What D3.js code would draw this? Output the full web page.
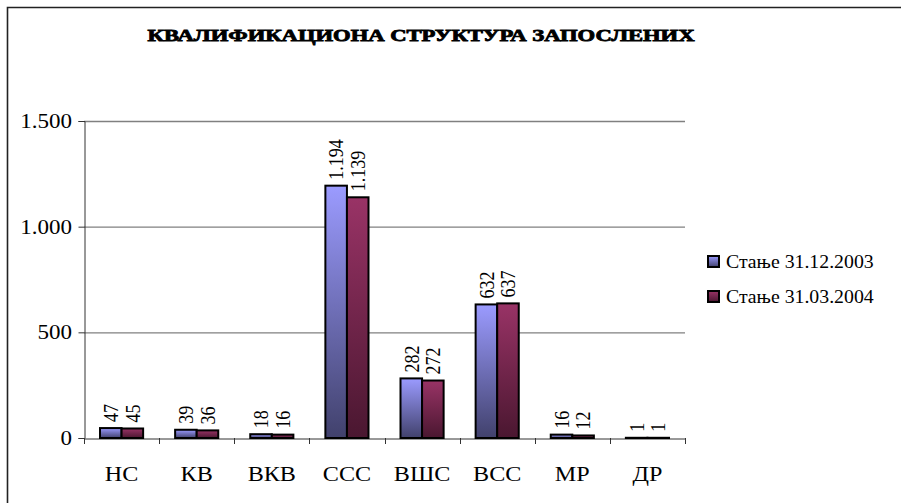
<!DOCTYPE html>
<html>
<head>
<meta charset="utf-8">
<script src="https://cdn.jsdelivr.net/npm/d3@7"></script>
<style>
  html, body { margin: 0; padding: 0; background: #fff; }
  svg { display: block; }
  svg text { font-family: "Liberation Serif", "Times New Roman", serif; fill: #000; }
</style>
</head>
<body>
<svg id="chart" width="901" height="503"></svg>
<script>
const title = "КВАЛИФИКАЦИОНА СТРУКТУРА ЗАПОСЛЕНИХ";
const categories = ["НС", "КВ", "ВКВ", "ССС", "ВШС", "ВСС", "МР", "ДР"];
const seriesNames = ["Стање 31.12.2003", "Стање 31.03.2004"];
const values2003 = [47, 39, 18, 1194, 282, 632, 16, 1];
const values2004 = [45, 36, 16, 1139, 272, 637, 12, 1];
const yTicks = [0, 500, 1000, 1500];
const seriesColors = [["#9b9bff", "#41416c"], ["#993366", "#4a1730"]];

const svg = d3.select("#chart");
const plot = { left: 84, right: 685, top: 121, bottom: 438 };
const sx = 1.15; // horizontal text stretch

const fmt = v => d3.format(",")(v).replace(/,/g, ".");

// outer frame (top and left edges visible)
svg.append("path").attr("d", "M7.5,503 V7.5 H901")
  .attr("fill", "none").attr("stroke", "#222").attr("stroke-width", 1.6);

// gradients
const defs = svg.append("defs");
seriesColors.forEach((c, i) => {
  const g = defs.append("linearGradient").attr("id", "grad" + i)
    .attr("x1", 0).attr("y1", 0).attr("x2", 0).attr("y2", 1);
  g.append("stop").attr("offset", "0%").attr("stop-color", c[0]);
  g.append("stop").attr("offset", "100%").attr("stop-color", c[1]);
});

const x0 = d3.scaleBand().domain(categories).range([plot.left, plot.right]).padding(0);
const x1 = d3.scaleBand().domain(seriesNames).range([16, x0.bandwidth() - 16]).padding(0);
const y = d3.scaleLinear().domain([0, 1500]).range([plot.bottom, plot.top]);

// gridlines
svg.append("g").selectAll("line").data(yTicks.filter(t => t > 0)).join("line")
  .attr("x1", plot.left).attr("x2", plot.right)
  .attr("y1", d => y(d) + 0.5).attr("y2", d => y(d) + 0.5)
  .attr("stroke", "#808080").attr("stroke-width", 1.3);

// y axis
const yAxis = svg.append("g").attr("transform", `translate(${plot.left + 0.5},0)`)
  .call(d3.axisLeft(y).tickValues(yTicks).tickSize(6).tickFormat(""));
yAxis.select(".domain").attr("stroke", "#333");
yAxis.selectAll(".tick line").attr("stroke", "#333");
svg.append("g").selectAll("text").data(yTicks).join("text")
  .attr("transform", d => `translate(72,${y(d)}) scale(${sx},1)`)
  .attr("text-anchor", "end").attr("dy", "0.35em")
  .attr("font-size", 20).text(d => fmt(d));

// x axis
const xAxis = svg.append("g").attr("transform", `translate(0,${plot.bottom + 0.5})`)
  .call(d3.axisBottom(x0).tickSize(0).tickFormat(""));
xAxis.select(".domain").attr("stroke", "#333");
const bounds = categories.map(c => x0(c)).concat([plot.right]);
svg.append("g").selectAll("line").data(bounds).join("line")
  .attr("x1", d => Math.round(d) + 0.5).attr("x2", d => Math.round(d) + 0.5)
  .attr("y1", plot.bottom).attr("y2", plot.bottom + 6)
  .attr("stroke", "#333");
svg.append("g").selectAll("text").data(categories).join("text")
  .attr("transform", d => `translate(${x0(d) + x0.bandwidth() / 2},481) scale(${sx},1)`)
  .attr("text-anchor", "middle").attr("font-size", 21).text(d => d);

// bars
const rows = categories.map((c, i) => ({ cat: c, vals: [values2003[i], values2004[i]] }));
const groups = svg.append("g").selectAll("g").data(rows).join("g")
  .attr("transform", d => `translate(${x0(d.cat)},0)`);
groups.selectAll("rect").data(d => d.vals.map((v, i) => ({ v, i }))).join("rect")
  .attr("x", d => x1(seriesNames[d.i]))
  .attr("y", d => y(d.v))
  .attr("width", x1.bandwidth())
  .attr("height", d => Math.max(0, y(0) - y(d.v)))
  .attr("fill", d => `url(#grad${d.i})`)
  .attr("stroke", "#000").attr("stroke-width", 2);

// data labels (rotated)
groups.selectAll("text").data(d => d.vals.map((v, i) => ({ v, i }))).join("text")
  .attr("transform", d => `translate(${x1(seriesNames[d.i]) + x1.bandwidth() / 2},${y(d.v) - 6}) rotate(-90) scale(1,${sx})`)
  .attr("dy", "0.35em").attr("font-size", 18).text(d => fmt(d.v));

// title
svg.append("text").attr("x", 421).attr("y", 41).attr("text-anchor", "middle")
  .attr("font-size", 16).attr("font-weight", "bold")
  .attr("stroke", "#000").attr("stroke-width", 0.8)
  .attr("textLength", 547).attr("lengthAdjust", "spacingAndGlyphs")
  .text(title);

// legend
const legend = svg.append("g").selectAll("g").data(seriesNames).join("g")
  .attr("transform", (d, i) => `translate(707,${255 + i * 35})`);
legend.append("rect").attr("x", 1).attr("y", 1).attr("width", 11).attr("height", 11)
  .attr("fill", (d, i) => `url(#grad${i})`).attr("stroke", "#000").attr("stroke-width", 2);
legend.append("text")
  .attr("transform", `translate(19,12.5) scale(1.1,1)`)
  .attr("font-size", 18).text(d => d);
</script>
</body>
</html>
